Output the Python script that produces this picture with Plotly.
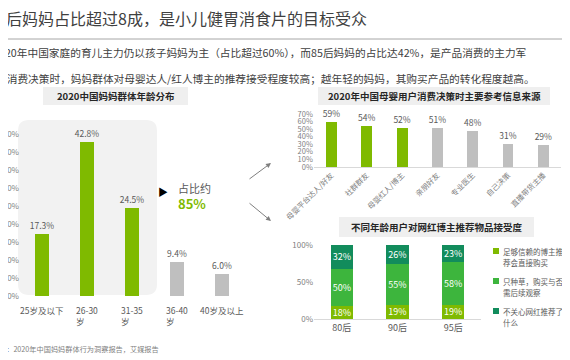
import plotly.graph_objects as go

W, H = 570, 360
OFF = 8  # page body margin in the browser


def px(x):
    return (x - OFF) / W


def py(y):
    return 1 - (y - OFF) / H


# ---------------- data ----------------
title_text = "后妈妈占比超过8成，是小儿健胃消食片的目标受众"
sub_line1 = "020年中国家庭的育儿主力仍以孩子妈妈为主（占比超过60%），而85后妈妈的占比达42%，是产品消费的主力军"
sub_line2 = "在消费决策时，妈妈群体对母婴达人/红人博主的推荐接受程度较高；越年轻的妈妈，其购买产品的转化程度越高。"
source_text = "源：2020年中国妈妈群体行为洞察报告，艾媒报告"

chart1_title = "2020中国妈妈群体年龄分布"
age_groups = ["25岁及以下", "26-30岁", "31-35岁", "36-40岁", "40岁及以上"]
age_labels = ["25岁及以下", "26-30<br>岁", "31-35<br>岁", "36-40<br>岁", "40岁及以上"]
age_share = [17.3, 42.8, 24.5, 9.4, 6.0]
age_ticks = [0, 5, 10, 15, 20, 25, 30, 35, 40, 45]
highlight_n = 3
callout_label = "占比约"
callout_value = "85%"

chart2_title = "2020年中国母婴用户消费决策时主要参考信息来源"
sources = ["母婴平台达人/好友", "社群群友", "母婴红人/博主", "亲朋好友", "专业医生", "自己决策", "直播带货主播"]
source_share = [59, 54, 52, 51, 48, 31, 29]
source_ticks = [0, 10, 20, 30, 40, 50, 60, 70]

chart3_title = "不同年龄用户对网红博主推荐物品接受度"
generations = ["80后", "90后", "95后"]
buy_direct = [18, 19, 19]
seed_only = [50, 55, 58]
not_care = [32, 26, 23]
series_names = ["足够信赖的博主推荐会直接购买", "只种草，购买与否需后续观察", "不关心网红推荐了什么"]
stack_ticks = [0, 50, 100]

# ---------------- styles ----------------
LIME = "#7FBA00"
GRAY = "#BFBFBF"
MID = "#3DB53D"
DARK = "#128C5C"
TXT = "#595959"
AX = "#7F7F7F"
FONT = "Noto Sans CJK SC, Noto Sans, sans-serif"

fig = go.Figure()

# chart 1 : age distribution
fig.add_trace(go.Bar(
    x=age_groups, y=age_share,
    marker=dict(color=[LIME if i < highlight_n else GRAY for i in range(len(age_share))], line=dict(width=0)),
    width=0.31,
    text=[f"{v:.1f}%" for v in age_share], textposition="outside",
    textfont=dict(size=8.5, color=TXT), cliponaxis=False, constraintext="none",
    xaxis="x", yaxis="y", hoverinfo="skip",
))

# chart 2 : info sources
fig.add_trace(go.Bar(
    x=sources, y=source_share,
    marker=dict(color=[LIME if i < highlight_n else GRAY for i in range(len(source_share))], line=dict(width=0)),
    width=0.31,
    text=[f"{v}%" for v in source_share], textposition="outside",
    textfont=dict(size=8.5, color=TXT), cliponaxis=False, constraintext="none",
    xaxis="x2", yaxis="y2", hoverinfo="skip",
))

# chart 3 : stacked acceptance
stack_colors = [LIME, MID, DARK]
for name, vals, col in zip(series_names, [buy_direct, seed_only, not_care], stack_colors):
    fig.add_trace(go.Bar(
        x=generations, y=vals, name=name,
        marker=dict(color=col, line=dict(width=0)), width=0.4,
        text=[f"{v}%" for v in vals], textposition="inside", insidetextanchor="middle",
        textfont=dict(size=9, color="white"), constraintext="none", textangle=0,
        xaxis="x3", yaxis="y3", hoverinfo="skip",
    ))

# axes geometry (pixels)
y1_zero, y1_45 = 296, 134
ppu1 = (y1_zero - y1_45) / 45.0
y1_top = 120
y2_zero, y2_70 = 167, 114
y3_zero, y3_100 = 319, 245

common = dict(automargin=False, showgrid=False, zeroline=False, ticks="", fixedrange=True)

fig.update_layout(
    width=W, height=H, margin=dict(l=0, r=0, t=0, b=0, autoexpand=False),
    paper_bgcolor="white", plot_bgcolor="rgba(0,0,0,0)",
    showlegend=False, barmode="stack",
    font=dict(family=FONT, color=TXT),
    xaxis=dict(domain=[px(18), px(246)], anchor="y", showticklabels=False, showline=False, **common),
    yaxis=dict(domain=[py(y1_zero), py(y1_top)], anchor="free", position=px(19),
               range=[0, (y1_zero - y1_top) / ppu1],
               tickvals=age_ticks, ticktext=[f"{t:.1f}%" for t in age_ticks],
               tickfont=dict(size=8, color=AX), showline=False, **common),
    xaxis2=dict(domain=[px(313.8), px(561)], anchor="y2", tickangle=-45,
                tickfont=dict(size=7.5, color=AX),
                showline=True, linecolor="#D9D9D9", linewidth=1, **common),
    yaxis2=dict(domain=[py(y2_zero), py(y2_70)], anchor="x2", range=[0, 70],
                tickvals=source_ticks, ticktext=[f"{t}%" for t in source_ticks],
                tickfont=dict(size=7.5, color=AX), showline=False, **common),
    xaxis3=dict(domain=[px(314), px(481)], anchor="y3",
                tickfont=dict(size=9, color=TXT),
                showline=True, linecolor="#D9D9D9", linewidth=1, **common),
    yaxis3=dict(domain=[py(y3_zero), py(y3_100)], anchor="x3", range=[0, 100],
                tickvals=stack_ticks, ticktext=[f"{t}%" for t in stack_ticks],
                tickfont=dict(size=8, color=AX), showline=False, **common),
)

shapes = []

# rounded background for chart 1
x0, x1, ya, yb, r = 18, 157, 120, 295, 11


def P(x, y):
    return f"{px(x):.5f},{py(y):.5f}"


path = (f"M {P(x0 + r, ya)} L {P(x1 - r, ya)} Q {P(x1, ya)} {P(x1, ya + r)} "
        f"L {P(x1, yb - r)} Q {P(x1, yb)} {P(x1 - r, yb)} "
        f"L {P(x0 + r, yb)} Q {P(x0, yb)} {P(x0, yb - r)} "
        f"L {P(x0, ya + r)} Q {P(x0, ya)} {P(x0 + r, ya)} Z")
shapes.append(dict(type="path", path=path, xref="paper", yref="paper",
                   fillcolor="#F2F2F2", line=dict(width=0), layer="below"))

# title boxes
for (bx0, bx1, by0, by1) in [(43, 188, 87, 105), (318, 550, 87, 105), (339, 534, 217, 237)]:
    shapes.append(dict(type="rect", xref="paper", yref="paper", x0=px(bx0), x1=px(bx1),
                       y0=py(by1), y1=py(by0), fillcolor="#EFEFEF", line=dict(width=0), layer="below"))

# header rule
shapes.append(dict(type="line", xref="paper", yref="paper", x0=px(0), x1=px(566), y0=py(39), y1=py(39),
                   line=dict(color="#A6A6A6", width=1)))

# legend squares
for i, col in enumerate(stack_colors):
    cy = 251 + 30 * i
    shapes.append(dict(type="rect", xref="paper", yref="paper", x0=px(493), x1=px(499),
                       y0=py(cy + 3), y1=py(cy - 3), fillcolor=col, line=dict(width=0)))

fig.update_layout(shapes=shapes)

ann = []
# header texts
ann.append(dict(text=title_text, x=px(4), y=py(18), xref="paper", yref="paper", xanchor="left",
                yanchor="middle", showarrow=False, font=dict(size=16, color="#404040")))
ann.append(dict(text=sub_line1, x=px(-3), y=py(52), xref="paper", yref="paper", xanchor="left",
                yanchor="middle", showarrow=False, font=dict(size=10.7, color="#404040")))
ann.append(dict(text=sub_line2, x=px(-6), y=py(79), xref="paper", yref="paper", xanchor="left",
                yanchor="middle", showarrow=False, font=dict(size=10.7, color="#404040")))

# chart titles
for t, cx, cy in [(chart1_title, 115.5, 96), (chart2_title, 434, 96), (chart3_title, 436.5, 227)]:
    ann.append(dict(text=f"<b>{t}</b>", x=px(cx), y=py(cy), xref="paper", yref="paper",
                    xanchor="center", yanchor="middle", showarrow=False,
                    font=dict(size=9.5, color="#262626")))

# chart 1 category labels
for g, lab in zip(age_groups, age_labels):
    ann.append(dict(text=lab, x=g, y=py(302), xref="x", yref="paper", xanchor="center",
                    yanchor="top", align="left", showarrow=False, font=dict(size=8.5, color=TXT)))

# callout
ann.append(dict(text="▶", x=px(163), y=py(191), xref="paper", yref="paper", xanchor="center",
                yanchor="middle", showarrow=False, font=dict(size=10, color="#000000")))
ann.append(dict(text=callout_label, x=px(176), y=py(188), xref="paper", yref="paper", xanchor="left",
                yanchor="middle", showarrow=False, font=dict(size=11, color=TXT)))
ann.append(dict(text=f"<b>{callout_value}</b>", x=px(176), y=py(203), xref="paper", yref="paper",
                xanchor="left", yanchor="middle", showarrow=False, font=dict(size=13, color=LIME)))

# arrows
ann.append(dict(text="", x=px(271), y=py(163), xref="paper", yref="paper", ax=-23, ay=17,
                showarrow=True, arrowhead=2, arrowsize=1, arrowwidth=1, arrowcolor="#7F7F7F"))
ann.append(dict(text="", x=px(271), y=py(221), xref="paper", yref="paper", ax=-23, ay=-19,
                showarrow=True, arrowhead=2, arrowsize=1, arrowwidth=1, arrowcolor="#7F7F7F"))

# legend text (two lines per entry)
for i, nm in enumerate(series_names):
    for j, part in enumerate([nm[:8], nm[8:]]):
        ann.append(dict(text=part, x=px(501), y=py(251 + 30 * i + 11.5 * j), xref="paper", yref="paper",
                        xanchor="left", yanchor="middle", align="left", showarrow=False,
                        font=dict(size=7.5, color=TXT)))

# source
ann.append(dict(text=source_text, x=px(-3), y=py(349), xref="paper", yref="paper", xanchor="left",
                yanchor="middle", showarrow=False, font=dict(size=7.2, color="#7F7F7F")))

fig.update_layout(annotations=ann)

fig.write_html("out.html")
